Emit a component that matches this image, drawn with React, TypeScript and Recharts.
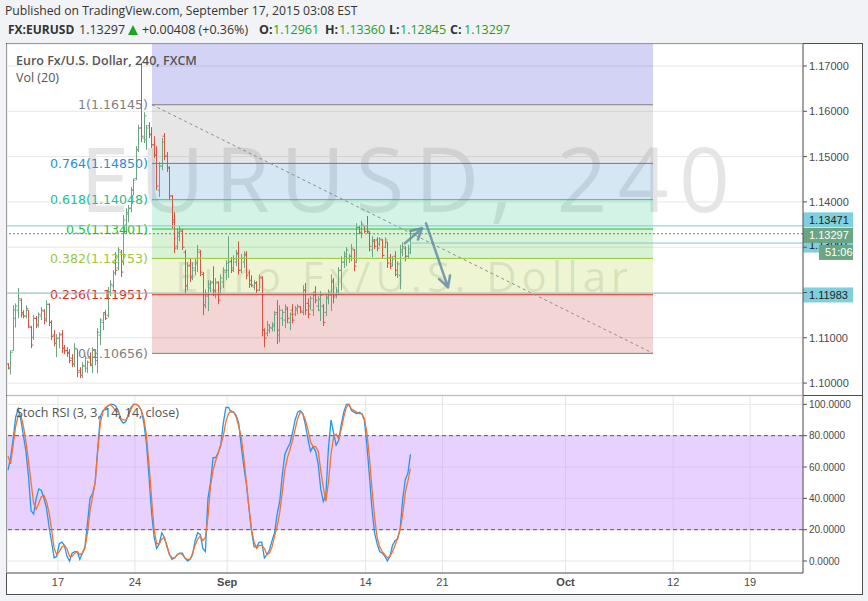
import React from 'react';
import {
  ComposedChart, Bar, Line, XAxis, YAxis, CartesianGrid, ReferenceArea, ReferenceLine,
} from 'recharts';

// ---------- data ----------
const firstBarDay = -3.25; // trading days relative to Aug 17
const barsPerDay = 6;      // 240-minute bars

const opens = [
  1.1042,1.1033,1.1072,1.1143,1.1161,1.1183,1.1156,1.1148,1.1161,1.1123,
  1.1101,1.1143,1.1130,1.1148,1.1159,1.1143,1.1174,1.1134,1.1106,1.1088,
  1.1099,1.1108,1.1077,1.1072,1.1068,1.1055,1.1042,1.1075,1.1028,1.1017,
  1.1037,1.1033,1.1058,1.1039,1.1058,1.1050,1.1106,1.1134,1.1156,1.1150,
  1.1201,1.1214,1.1265,1.1254,1.1289,1.1267,1.1349,1.1373,1.1386,1.1426,
  1.1452,1.1515,1.1563,1.1541,1.1537,1.1568,1.1550,1.1526,1.1503,1.1426,
  1.1479,1.1545,1.1501,1.1475,1.1413,1.1360,1.1302,1.1324,1.1335,1.1289,
  1.1216,1.1260,1.1236,1.1249,1.1263,1.1289,1.1240,1.1172,1.1192,1.1210,
  1.1223,1.1201,1.1221,1.1198,1.1223,1.1245,1.1249,1.1269,1.1254,1.1267,
  1.1287,1.1249,1.1267,1.1285,1.1243,1.1227,1.1212,1.1221,1.1205,1.1232,
  1.1117,1.1110,1.1117,1.1121,1.1126,1.1156,1.1106,1.1143,1.1139,1.1163,
  1.1134,1.1161,1.1152,1.1161,1.1168,1.1156,1.1205,1.1176,1.1170,1.1161,
  1.1201,1.1170,1.1161,1.1170,1.1156,1.1187,1.1194,1.1223,1.1194,1.1201,
  1.1249,1.1267,1.1280,1.1276,1.1280,1.1294,1.1267,1.1344,1.1331,1.1347,
  1.1347,1.1331,1.1294,1.1313,1.1316,1.1307,1.1316,1.1300,1.1311,1.1276,
  1.1263,1.1280,1.1240,1.1238,1.1289,1.1298,1.1280,1.12961,
];
const highs = [
  1.1044,1.1072,1.1172,1.1176,1.1210,1.1187,1.1161,1.1172,1.1161,1.1126,
  1.1150,1.1148,1.1156,1.1168,1.1163,1.1183,1.1176,1.1139,1.1117,1.1108,
  1.1112,1.1117,1.1084,1.1079,1.1075,1.1064,1.1088,1.1075,1.1035,1.1046,
  1.1061,1.1050,1.1068,1.1079,1.1072,1.1121,1.1143,1.1156,1.1161,1.1212,
  1.1227,1.1249,1.1289,1.1300,1.1294,1.1371,1.1386,1.1393,1.1433,1.1452,
  1.1523,1.1570,1.1707,1.1598,1.1570,1.1576,1.1565,1.1545,1.1523,1.1488,
  1.1541,1.1552,1.1510,1.1479,1.1415,1.1377,1.1342,1.1347,1.1340,1.1294,
  1.1267,1.1276,1.1267,1.1276,1.1305,1.1294,1.1245,1.1207,1.1227,1.1227,
  1.1258,1.1232,1.1225,1.1240,1.1256,1.1271,1.1324,1.1278,1.1282,1.1294,
  1.1313,1.1285,1.1291,1.1291,1.1249,1.1238,1.1227,1.1225,1.1240,1.1236,
  1.1121,1.1137,1.1130,1.1134,1.1159,1.1183,1.1172,1.1163,1.1174,1.1168,
  1.1156,1.1174,1.1170,1.1174,1.1170,1.1216,1.1221,1.1187,1.1192,1.1201,
  1.1214,1.1192,1.1203,1.1174,1.1196,1.1207,1.1240,1.1232,1.1212,1.1256,
  1.1280,1.1291,1.1300,1.1285,1.1307,1.1296,1.1353,1.1347,1.1358,1.1347,
  1.1369,1.1335,1.1324,1.1318,1.1322,1.1322,1.1318,1.1322,1.1311,1.1285,
  1.1280,1.1291,1.1269,1.1305,1.1311,1.1302,1.1305,1.13360,
];
const lows = [
  1.1030,1.1019,1.1072,1.1123,1.1143,1.1145,1.1143,1.1143,1.1121,1.1077,
  1.1095,1.1121,1.1123,1.1139,1.1130,1.1134,1.1126,1.1095,1.1081,1.1057,
  1.1077,1.1066,1.1064,1.1058,1.1044,1.1035,1.1035,1.1013,1.1011,1.1011,
  1.1024,1.1022,1.1037,1.1022,1.1039,1.1022,1.1084,1.1117,1.1139,1.1145,
  1.1192,1.1205,1.1238,1.1249,1.1234,1.1260,1.1331,1.1355,1.1377,1.1415,
  1.1448,1.1510,1.1532,1.1530,1.1515,1.1541,1.1519,1.1497,1.1426,1.1411,
  1.1470,1.1492,1.1466,1.1404,1.1342,1.1287,1.1294,1.1313,1.1294,1.1198,
  1.1205,1.1223,1.1227,1.1238,1.1245,1.1236,1.1150,1.1165,1.1159,1.1201,
  1.1192,1.1187,1.1174,1.1194,1.1210,1.1227,1.1232,1.1243,1.1245,1.1258,
  1.1240,1.1243,1.1254,1.1229,1.1210,1.1212,1.1205,1.1198,1.1203,1.1103,
  1.1079,1.1103,1.1110,1.1114,1.1114,1.1086,1.1090,1.1126,1.1121,1.1132,
  1.1117,1.1132,1.1148,1.1152,1.1154,1.1150,1.1150,1.1143,1.1161,1.1148,
  1.1176,1.1159,1.1137,1.1126,1.1148,1.1174,1.1159,1.1176,1.1187,1.1194,
  1.1205,1.1254,1.1258,1.1265,1.1269,1.1247,1.1265,1.1329,1.1320,1.1331,
  1.1331,1.1291,1.1278,1.1296,1.1291,1.1302,1.1274,1.1298,1.1254,1.1252,
  1.1258,1.1236,1.1232,1.1207,1.1280,1.1269,1.1276,1.12845,
];
const closes = [
  1.1033,1.1068,1.1161,1.1170,1.1187,1.1152,1.1148,1.1165,1.1126,1.1084,
  1.1143,1.1128,1.1152,1.1161,1.1139,1.1174,1.1134,1.1103,1.1088,1.1099,
  1.1106,1.1077,1.1071,1.1066,1.1050,1.1042,1.1077,1.1024,1.1017,1.1039,
  1.1055,1.1046,1.1042,1.1072,1.1066,1.1112,1.1139,1.1152,1.1143,1.1201,
  1.1218,1.1243,1.1249,1.1294,1.1245,1.1360,1.1377,1.1386,1.1426,1.1448,
  1.1515,1.1563,1.1545,1.1590,1.1563,1.1548,1.1526,1.1503,1.1435,1.1479,
  1.1532,1.1501,1.1475,1.1413,1.1355,1.1298,1.1333,1.1338,1.1300,1.1214,
  1.1258,1.1232,1.1254,1.1267,1.1294,1.1245,1.1172,1.1198,1.1218,1.1221,
  1.1205,1.1223,1.1183,1.1232,1.1249,1.1265,1.1267,1.1249,1.1274,1.1285,
  1.1249,1.1276,1.1282,1.1238,1.1218,1.1216,1.1221,1.1205,1.1234,1.1117,
  1.1099,1.1128,1.1123,1.1130,1.1152,1.1117,1.1161,1.1156,1.1168,1.1143,
  1.1152,1.1139,1.1165,1.1170,1.1159,1.1205,1.1161,1.1152,1.1187,1.1194,
  1.1183,1.1185,1.1194,1.1134,1.1190,1.1201,1.1227,1.1190,1.1205,1.1249,
  1.1267,1.1285,1.1294,1.1280,1.1298,1.1258,1.1344,1.1333,1.1351,1.1335,
  1.1335,1.1302,1.1316,1.1302,1.1298,1.1318,1.1282,1.1316,1.1265,1.1258,
  1.1274,1.1249,1.1263,1.1294,1.1302,1.1280,1.1289,1.13297,
];
const stochK = [
  58,66,78,92,97,90,80,70,54,32, 30,40,46,45,40,34,22,12,2,3,
  11,12,10,3,0,5,6,6,1,5, 9,24,40,43,50,72,92,96,97,99,
  100,100,99,96,90,88,89,94,98,100, 100,99,96,88,75,54,31,15,8,11,
  18,15,9,4,1,2,4,5,5,2, 0,1,4,13,18,17,8,6,40,50,
  66,66,69,74,88,98,98,95,95,93, 88,73,60,49,34,19,9,9,12,12,
  2,4,7,13,18,30,38,55,68,72, 75,82,90,95,96,94,87,78,70,73,
  70,62,46,38,42,72,90,82,74,77, 87,95,100,100,96,95,94,95,94,90,
  74,54,33,18,11,6,5,3,0,3, 10,13,14,21,40,52,56,68,
];
const stochD = [
  67,62,74,86,93,93,86,76,64,50, 37,33,37,41,42,38,31,20,8,4,
  6,9,10,8,3,3,5,6,4,5, 8,18,32,41,50,70,88,95,98,99,
  100,98,96,95,91,90,90,93,97,100, 100,99,96,91,80,62,40,20,11,11,
  14,15,10,4,2,2,4,5,4,2, 1,1,5,10,14,16,13,15,28,48,
  58,64,69,74,80,89,94,96,95,92, 86,79,66,50,34,20,12,8,10,10,
  8,4,5,9,16,22,31,44,58,66, 71,77,84,91,95,94,90,84,76,73,
  73,70,58,47,38,50,68,79,81,78, 84,92,98,100,97,96,95,94,94,91,
  82,66,46,28,15,9,6,4,2,3, 6,10,15,20,30,44,51,59,
];

const timeTickDays = [0, 5, 11, 20, 25, 33, 40, 45];
const timeTickLabels = ['17', '24', 'Sep', '14', '21', 'Oct', '12', '19'];
const timeTickBold = [false, false, true, false, false, true, false, false];
const dayDomain = [-3.316, 48.44];

const priceTicks = [1.10, 1.11, 1.12, 1.13, 1.14, 1.15, 1.16, 1.17];
const priceTicksHiddenLabel = [1.12, 1.13];
const priceDomain = [1.09737, 1.17486];

const stochTicks = [0, 20, 40, 60, 80, 100];
const stochDomain = [-7.66, 105.3];
const stochBand = [20, 80];

const fibLevels = [1, 0.764, 0.618, 0.5, 0.382, 0.236, 0];
const fibPrices = [1.16145, 1.14850, 1.14048, 1.13401, 1.12753, 1.11951, 1.10656];
const fibStartDay = 6.11;
const fibEndDay = 38.69;

const resistancePrice = 1.13471;
const supportPrice = 1.11983;
const rayPrice = 1.13091;
const rayStartDay = 22.89;
const lastPrice = 1.13297;
const countdown = '51:06';

const arrowUp = [{ x: 22.56, y: 1.13086 }, { x: 23.67, y: 1.13417 }];
const arrowDown = [{ x: 23.93, y: 1.13528 }, { x: 25.36, y: 1.12115 }];

const bars = closes.map((c, i) => ({
  t: firstBarDay + i / barsPerDay,
  open: opens[i], high: highs[i], low: lows[i], close: c,
  k: stochK[i], d: stochD[i],
}));

// ---------- styles ----------
const GREEN = '#6ba583';
const RED = '#d75442';
const AXIS = '#555555';
const GRID = '#e6e6e6';
const TXT = '#4a4a4a';
const AXIS_FONT = '"Liberation Sans", Arial, sans-serif';
const UI_FONT = '"Open Sans", sans-serif';
const CYAN_LINE = '#7fcbd9';
const CYAN_BOX = '#7fcfdc';
const ARROW = '#5f86a6';

const fibAboveFill = 'rgb(35,35,205)';
const fibZoneFills = ['rgb(130,130,130)', 'rgb(45,135,195)', 'rgb(30,195,130)', 'rgb(60,195,35)', 'rgb(165,205,30)', 'rgb(200,45,45)'];
const fibLineColors = ['#808080', '#2a8fd0', '#2bbd8c', '#22c322', '#97c93a', '#d9302c', '#808080'];

const OhlcShape = (props: any) => {
  const { x, y, width, height, payload } = props;
  if (x == null || y == null || !payload) return null;
  const top = Math.min(y, y + height);
  const bottom = Math.max(y, y + height);
  const span = payload.high - payload.low || 1;
  const yO = top + ((payload.high - payload.open) / span) * (bottom - top);
  const yC = top + ((payload.high - payload.close) / span) * (bottom - top);
  const cx = Math.round(x + width / 2) + 0.5;
  const color = payload.close >= payload.open ? GREEN : RED;
  return (
    <g stroke={color} strokeWidth={1}>
      <line x1={cx} x2={cx} y1={top} y2={bottom} />
      <line x1={cx - 2} x2={cx} y1={yO} y2={yO} />
      <line x1={cx} x2={cx + 2} y1={yC} y2={yC} />
    </g>
  );
};

const ArrowShape = (p: any) => {
  const { x1, y1, x2, y2 } = p;
  if ([x1, y1, x2, y2].some((v) => v == null || isNaN(v))) return null;
  const ang = Math.atan2(y2 - y1, x2 - x1);
  const L = 12;
  const s = 0.5;
  const ax = x2 - L * Math.cos(ang - s);
  const ay = y2 - L * Math.sin(ang - s);
  const bx = x2 - L * Math.cos(ang + s);
  const by = y2 - L * Math.sin(ang + s);
  return (
    <g stroke={ARROW} strokeWidth={2.5} strokeLinecap="round" strokeLinejoin="round" fill="none" opacity={0.8}>
      <line x1={x1} y1={y1} x2={x2} y2={y2} />
      <polyline points={`${ax},${ay} ${x2},${y2} ${bx},${by}`} />
    </g>
  );
};

const AxisBox = ({ x, cy, text, bg, color, w = 50 }: any) => (
  <g>
    <rect x={x} y={cy - 7.5} width={w} height={15} fill={bg} />
    <text x={x + 6} y={cy + 4} fill={color} fontSize={11} fontFamily={AXIS_FONT}>{text}</text>
  </g>
);

const fibLabel = (text: string, color: string) => (p: any) => {
  const vb = p.viewBox || {};
  return (
    <text x={vb.x - 4} y={vb.y + 4.5} textAnchor="end" fill={color} fontSize={12.6}
      fontFamily='"DejaVu Sans", Verdana, sans-serif'>{text}</text>
  );
};

const TimeTick = (p: any) => {
  const idx = timeTickDays.indexOf(p.payload.value);
  if (idx < 0) return null;
  return (
    <text x={p.x} y={p.y + 8} textAnchor="middle" fill={TXT} fontSize={11}
      fontWeight={timeTickBold[idx] ? 700 : 400} fontFamily={AXIS_FONT}>{timeTickLabels[idx]}</text>
  );
};

const layer: any = { position: 'absolute', left: 0, top: 0 };

export default function App() {
  const fibAreas = [
    <ReferenceArea key="fa-top" x1={fibStartDay} x2={fibEndDay} y1={fibPrices[0]} y2={priceDomain[1]}
      fill={fibAboveFill} fillOpacity={0.2} stroke="none" ifOverflow="hidden" />,
    ...fibZoneFills.map((f, i) => (
      <ReferenceArea key={`fa-${i}`} x1={fibStartDay} x2={fibEndDay} y1={fibPrices[i + 1]} y2={fibPrices[i]}
        fill={f} fillOpacity={0.2} stroke="none" />
    )),
  ];
  const fibLines = fibLevels.map((lv, i) => (
    <ReferenceLine key={`fl-${i}`} segment={[{ x: fibStartDay, y: fibPrices[i] }, { x: fibEndDay, y: fibPrices[i] }]}
      stroke={fibLineColors[i]} strokeWidth={1}
      label={fibLabel(`${lv}(${fibPrices[i].toFixed(5)})`, fibLineColors[i])} />
  ));

  return (
    <div style={{ position: 'absolute', left: 0, top: 0, width: 868, height: 601, background: '#f1f3f6', overflow: 'hidden', fontFamily: UI_FONT }}>
      {/* header */}
      <div style={{ position: 'absolute', left: 5, top: 2, fontSize: 12.2, color: '#333', whiteSpace: 'nowrap' }}>
        Published on TradingView.com, September 17, 2015 03:08 EST
      </div>
      <div style={{ position: 'absolute', left: 0, top: 21, fontSize: 12.5, color: '#333', whiteSpace: 'nowrap', height: 18 }}>
        <span style={{ position: 'absolute', left: 8, fontWeight: 700, fontSize: 12 }}>FX:EURUSD</span>
        <span style={{ position: 'absolute', left: 79 }}>1.13297</span>
        <span style={{ position: 'absolute', left: 128, top: 4, width: 0, height: 0, borderLeft: '5px solid transparent', borderRight: '5px solid transparent', borderBottom: '10px solid #1ea51e' }} />
        <span style={{ position: 'absolute', left: 142 }}>+0.00408 (+0.36%)</span>
        <span style={{ position: 'absolute', left: 259, fontWeight: 700 }}>O:</span>
        <span style={{ position: 'absolute', left: 273, color: '#1e9e1e' }}>1.12961</span>
        <span style={{ position: 'absolute', left: 325, fontWeight: 700 }}>H:</span>
        <span style={{ position: 'absolute', left: 339, color: '#1e9e1e' }}>1.13360</span>
        <span style={{ position: 'absolute', left: 389, fontWeight: 700 }}>L:</span>
        <span style={{ position: 'absolute', left: 400, color: '#1e9e1e' }}>1.12845</span>
        <span style={{ position: 'absolute', left: 450, fontWeight: 700 }}>C:</span>
        <span style={{ position: 'absolute', left: 464, color: '#1e9e1e' }}>1.13297</span>
      </div>

      {/* frame */}
      <div style={{ position: 'absolute', left: 6, top: 43, width: 857, height: 552, boxSizing: 'border-box', border: '1px solid #4e4e4e', background: '#ffffff' }} />
      <div style={{ position: 'absolute', left: 6, top: 395, width: 857, height: 1, background: '#4e4e4e' }} />

      {/* watermark (behind the series) */}
      <svg width={868} height={601} style={{ ...layer, pointerEvents: 'none' }}>
        <text x={80} y={212} fontSize={89} fill="#000" fillOpacity={0.1} fontFamily={UI_FONT}
          textLength={650} lengthAdjust="spacing">EURUSD, 240</text>
        <text x={175} y={292} fontSize={42} fill="#000" fillOpacity={0.1} fontFamily={UI_FONT}
          textLength={453} lengthAdjust="spacing">Euro Fx/U.S. Dollar</text>
      </svg>

      {/* price pane */}
      <div style={layer}>
        <ComposedChart width={868} height={601} data={bars} margin={{ top: 44, right: 6, bottom: 206, left: 7 }}>
          <CartesianGrid stroke={GRID} />
          <XAxis dataKey="t" type="number" domain={dayDomain} ticks={timeTickDays} allowDataOverflow
            height={0} tick={false} axisLine={false} tickLine={false} />
          <YAxis orientation="right" width={59} domain={priceDomain} ticks={priceTicks} allowDataOverflow
            axisLine={{ stroke: AXIS }} tickLine={{ stroke: AXIS }} tickSize={4} tickMargin={2}
            tick={{ fill: TXT, fontSize: 11, fontFamily: AXIS_FONT }}
            tickFormatter={(v: number) => (priceTicksHiddenLabel.includes(v) ? '' : v.toFixed(5))} />
          {fibAreas}
          {fibLines}
          <ReferenceLine segment={[{ x: fibStartDay, y: fibPrices[0] }, { x: fibEndDay, y: fibPrices[fibPrices.length - 1] }]}
            stroke="#8c8c8c" strokeDasharray="3 3" strokeWidth={1} />
          <ReferenceLine y={resistancePrice} stroke={CYAN_LINE} strokeWidth={1}
            label={(p: any) => <AxisBox x={p.viewBox.x + p.viewBox.width} cy={p.viewBox.y - 6} text={resistancePrice.toFixed(5)} bg={CYAN_BOX} color="#1f1f1f" />} />
          <ReferenceLine y={supportPrice} stroke={CYAN_LINE} strokeWidth={1}
            label={(p: any) => <AxisBox x={p.viewBox.x + p.viewBox.width} cy={p.viewBox.y + 1.7} text={supportPrice.toFixed(5)} bg={CYAN_BOX} color="#1f1f1f" />} />
          <ReferenceLine segment={[{ x: rayStartDay, y: rayPrice }, { x: dayDomain[1], y: rayPrice }]} stroke={CYAN_LINE} strokeWidth={1}
            label={(p: any) => <AxisBox x={p.viewBox.x + p.viewBox.width} cy={p.viewBox.y + 2} text={rayPrice.toFixed(5)} bg={CYAN_BOX} color="#1f1f1f" />} />
          <ReferenceLine y={lastPrice} stroke="#5c8a6f" strokeDasharray="2 2" strokeWidth={1}
            label={(p: any) => (
              <g>
                <AxisBox x={p.viewBox.x + p.viewBox.width} cy={p.viewBox.y + 1.7} text={lastPrice.toFixed(5)} bg={GREEN} color="#ffffff" />
                <AxisBox x={p.viewBox.x + p.viewBox.width + 16} w={34} cy={p.viewBox.y + 18.7} text={countdown} bg={GREEN} color="#ffffff" />
              </g>
            )} />
          <Bar dataKey={(d: any) => [d.low, d.high]} shape={OhlcShape} isAnimationActive={false} barSize={2} />
          <ReferenceLine segment={arrowUp} shape={ArrowShape} />
          <ReferenceLine segment={arrowDown} shape={ArrowShape} />
        </ComposedChart>
      </div>

      {/* stoch pane */}
      <div style={layer}>
        <ComposedChart width={868} height={601} data={bars} margin={{ top: 396, right: 6, bottom: 8, left: 7 }}>
          <CartesianGrid stroke={GRID} />
          <XAxis dataKey="t" type="number" domain={dayDomain} ticks={timeTickDays} allowDataOverflow
            height={20} axisLine={{ stroke: AXIS }} tickLine={false} tickSize={3} tickMargin={2} tick={TimeTick} />
          <YAxis orientation="right" width={59} domain={stochDomain} ticks={stochTicks} allowDataOverflow
            axisLine={{ stroke: AXIS }} tickLine={{ stroke: AXIS }} tickSize={4} tickMargin={2}
            tick={{ fill: TXT, fontSize: 10, fontFamily: AXIS_FONT }}
            tickFormatter={(v: number) => v.toFixed(4)} />
          <ReferenceArea y1={stochBand[0]} y2={stochBand[1]} fill="#cc99ff" fillOpacity={0.45} stroke="none" />
          <ReferenceLine y={stochBand[1]} stroke="#5d5566" strokeDasharray="4 3" />
          <ReferenceLine y={stochBand[0]} stroke="#5d5566" strokeDasharray="4 3" />
          <Line dataKey="k" stroke="#2196f3" strokeWidth={1.3} dot={false} isAnimationActive={false} type="linear" />
          <Line dataKey="d" stroke="#f5742d" strokeWidth={1.3} dot={false} isAnimationActive={false} type="linear" />
        </ComposedChart>
      </div>

      {/* pane legends */}
      <div style={{ position: 'absolute', left: 16, top: 52, fontSize: 12.5, fontWeight: 600, color: '#555', whiteSpace: 'nowrap' }}>
        Euro Fx/U.S. Dollar, 240, FXCM
      </div>
      <div style={{ position: 'absolute', left: 16, top: 69, fontSize: 12.5, color: '#555', whiteSpace: 'nowrap' }}>
        Vol (20)
      </div>
      <div style={{ position: 'absolute', left: 16, top: 404, fontSize: 12.5, color: '#555', whiteSpace: 'nowrap' }}>
        Stoch RSI (3, 3, 14, 14, close)
      </div>
    </div>
  );
}
